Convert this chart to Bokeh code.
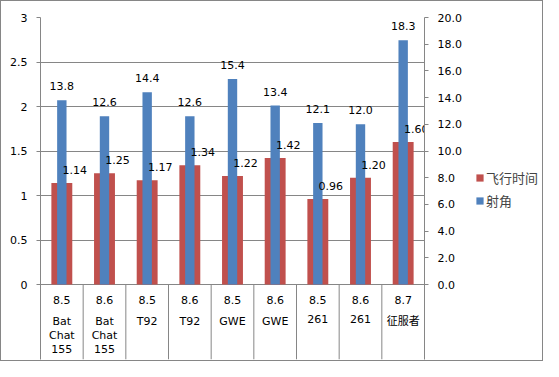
import numpy as np
from bokeh.plotting import figure
from bokeh.layouts import row
from bokeh.models import (Range1d, LinearAxis, FixedTicker, NumeralTickFormatter,
                          ColumnDataSource, Legend, LegendItem)
from bokeh.core.properties import value
from bokeh.embed import file_html
from bokeh.resources import INLINE

# ---- data ----
versions = ["8.5", "8.6", "8.5", "8.6", "8.5", "8.6", "8.5", "8.6", "8.7"]
names = ["Bat\nChat\n155", "Bat\nChat\n155", "T92", "T92", "GWE", "GWE", "261", "261", "征服者"]
flight_time = [1.14, 1.25, 1.17, 1.34, 1.22, 1.42, 0.96, 1.20, 1.60]
angle = [13.8, 12.6, 14.4, 12.6, 15.4, 13.4, 12.1, 12.0, 18.3]
left_ticks = [0, 0.5, 1, 1.5, 2, 2.5, 3]
right_ticks = [0, 2, 4, 6, 8, 10, 12, 14, 16, 18, 20]
series_names = ["飞行时间", "射角"]

# ---- style ----
RED = "#C0504D"
BLUE = "#4F81BD"
GRAY = "#868686"
FONT = "DejaVu Sans, Noto Sans CJK SC"
FS = "11px"

n = len(versions)
xc = [i + 0.5 for i in range(n)]
seps = list(range(1, n))

H = 359            # canvas height (plus 1px border top/bottom)
TOP = 16
frame_h = 342      # px of frame
plot_h = 267       # px used by value axes (0..max)
left_end = left_ticks[-1]
right_end = right_ticks[-1]
lpx = plot_h / left_end     # px per unit (left)
rpx = plot_h / right_end    # px per unit (right)
left_start = -(frame_h - plot_h) / lpx
right_start = -(frame_h - plot_h) / rpx

src = ColumnDataSource(dict(
    x=xc, ft=flight_time, ang=angle,
    ft_lbl=[f"{v:.2f}" for v in flight_time],
    ang_lbl=[f"{v:.1f}" for v in angle],
    ver=versions, name=names, zero=[0] * n,
))
sep_src = ColumnDataSource(dict(x=seps, y0=[0] * len(seps), y1=[left_start] * len(seps)))

p = figure(frame_width=384, frame_height=frame_h, output_backend="svg", toolbar_location=None,
           x_range=Range1d(0, n), y_range=Range1d(left_start, left_end),
           x_axis_location=None, y_axis_location="left",
           min_border_left=39, min_border_top=TOP, min_border_bottom=H - TOP - frame_h,
           min_border_right=42)
p.extra_y_ranges = {"right": Range1d(right_start, right_end)}
p.outline_line_color = None
p.background_fill_color = "white"
p.border_fill_color = "white"

# left axis
ya = p.yaxis[0]
ya.ticker = FixedTicker(ticks=left_ticks)
ya.formatter = NumeralTickFormatter(format="0.[0]")
ya.axis_line_color = GRAY
ya.major_tick_line_color = GRAY
ya.major_tick_out = 4
ya.major_tick_in = 0
ya.minor_tick_line_color = None
ya.major_label_text_font = FONT
ya.major_label_text_font_size = FS
ya.major_label_text_color = "black"
ya.major_label_standoff = 9

# right axis
ra = LinearAxis(y_range_name="right", ticker=FixedTicker(ticks=right_ticks),
                formatter=NumeralTickFormatter(format="0.0"))
ra.axis_line_color = GRAY
ra.major_tick_line_color = GRAY
ra.major_tick_out = 4
ra.major_tick_in = 0
ra.minor_tick_line_color = None
ra.major_label_text_font = FONT
ra.major_label_text_font_size = FS
ra.major_label_text_color = "black"
ra.major_label_standoff = 9
p.add_layout(ra, "right")

p.xgrid.visible = False
p.ygrid.ticker = FixedTicker(ticks=left_ticks)
p.ygrid.grid_line_color = GRAY

# bars
r_red = p.vbar(x="x", top="ft", width=0.49, bottom=0, source=src, fill_color=RED, line_color=None)
r_blue = p.vbar(x="x", top="ang", width=0.22, bottom=0, source=src, fill_color=BLUE,
                line_color=None, y_range_name="right")

# data labels
p.text(x="x", y="ang", text="ang_lbl", source=src, y_range_name="right",
       text_align="center", text_baseline="middle", y_offset=-14,
       text_font=value(FONT), text_font_size=FS, text_color="black")
p.text(x="x", y="ft", text="ft_lbl", source=src,
       text_align="center", text_baseline="middle", x_offset=13, y_offset=-13,
       text_font=value(FONT), text_font_size=FS, text_color="black")

# category axis
p.segment(x0="x", y0="y0", x1="x", y1="y1", source=sep_src, line_color=GRAY, line_width=1)
p.text(x="x", y="zero", text="ver", source=src, text_align="center", text_baseline="middle",
       y_offset=15, text_font=value(FONT), text_font_size=FS, text_color="black")
p.text(x="x", y="zero", text="name", source=src, text_align="center", text_baseline="top",
       y_offset=30, text_line_height=1.1,
       text_font=value(FONT), text_font_size=FS, text_color="black")

# legend panel (separate small figure to the right of the chart)
LW = 541 - 39 - 384 - 42
p2 = figure(width=LW, height=H, output_backend="svg", toolbar_location=None,
            x_axis_location=None, y_axis_location=None, min_border=0,
            x_range=Range1d(0, 1), y_range=Range1d(0, 1))
p2.outline_line_color = None
p2.xgrid.visible = False
p2.ygrid.visible = False
nan = float("nan")
dummy = ColumnDataSource(dict(x=[nan], top=[nan]))   # legend swatches only, nothing plotted
l_red = p2.vbar(x="x", top="top", width=0.5, source=dummy, fill_color=RED, line_color=None)
l_blue = p2.vbar(x="x", top="top", width=0.5, source=dummy, fill_color=BLUE, line_color=None)
legend = Legend(items=[LegendItem(label=series_names[0], renderers=[l_red], index=0),
                       LegendItem(label=series_names[1], renderers=[l_blue], index=0)],
                location=(9, H - 208 - 2), border_line_color=None, background_fill_alpha=0,
                glyph_width=9, glyph_height=9, label_standoff=2, spacing=3,
                label_height=20, padding=0, margin=0,
                label_text_font="Noto Sans CJK SC", label_text_font_size="13px")
p2.add_layout(legend)

layout = row(p, p2, styles={"border": f"1px solid {GRAY}"})

open("out.html", "w").write(file_html(layout, INLINE))
